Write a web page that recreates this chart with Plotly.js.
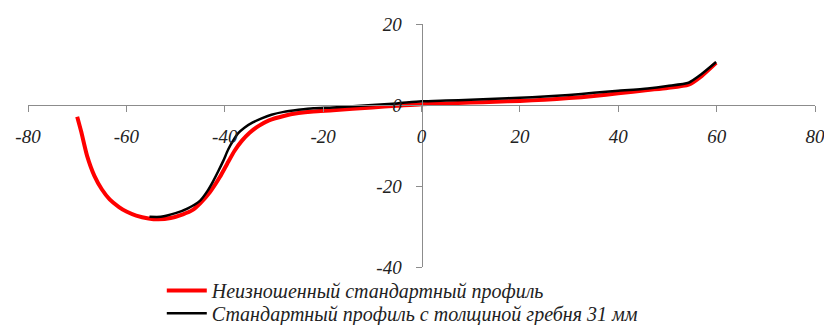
<!DOCTYPE html>
<html>
<head>
<meta charset="utf-8">
<script src="https://cdn.plot.ly/plotly-3.0.1.min.js"></script>
<style>
  body { margin: 0; background: #fff; }
  #plot { width: 824px; height: 325px; }
</style>
</head>
<body>
<div id="plot"></div>
<script>
var xTicks = [-80, -60, -40, -20, 0, 20, 40, 60, 80];
var yTicks = [-40, -20, 0, 20];

// Неизношенный стандартный профиль
var newX = [-70, -69.2, -68, -66.5, -65, -63.4, -61.5, -60, -58, -55.5, -53.5, -51, -48.5, -46.5,
            -45, -43, -41, -39.5, -38, -36.5, -35, -33, -31, -28, -25, -22, -18, -10, -5, 0,
            5, 10, 15, 20, 25, 30, 35, 40, 46, 50, 54.3, 57, 59.9];
var newY = [-2.9, -6.5, -12.5, -17.5, -20.8, -23.3, -25.2, -26.3, -27.3, -28.0, -28.2, -27.9, -27.0, -25.9,
            -24.3, -21.5, -17.8, -14.5, -11.3, -8.8, -6.9, -5.1, -3.8, -2.7, -2.0, -1.6, -1.3, -0.6, -0.2, 0.2,
            0.4, 0.6, 0.8, 1.0, 1.3, 1.7, 2.2, 2.9, 3.7, 4.2, 5.0, 7.2, 10.4];

// Стандартный профиль с толщиной гребня 31 мм
var wornX = [-55.3, -53, -50, -47.5, -45, -43.5, -42.4, -41.3, -40.3, -39.3, -38.3, -37.3, -36, -34.3,
             -32.5, -30.5, -28, -25, -22, -18, -10, -5, 0, 5, 10, 15, 20, 25, 30, 35, 40, 46, 50,
             54.3, 57, 59.9];
var wornY = [-27.6, -27.6, -26.7, -25.5, -23.6, -21.2, -18.9, -16.3, -13.8, -11.0, -8.8, -7.0, -5.6, -4.3,
             -3.3, -2.4, -1.7, -1.2, -0.8, -0.6, 0.0, 0.4, 0.9, 1.1, 1.3, 1.55, 1.8, 2.1, 2.5, 3.0, 3.5, 4.1, 4.7,
             5.5, 7.7, 10.6];

var labels = ['Неизношенный стандартный профиль', 'Стандартный профиль с толщиной гребня 31 мм'];

var xRange = [-80, 80];
var yRange = [-40, 20];

var serif = '"Liberation Serif", "Times New Roman", serif';

var trace1 = {
  x: newX, y: newY,
  mode: 'lines', type: 'scatter',
  name: labels[0],
  legend: 'legend',
  line: { color: '#ff0000', width: 4, shape: 'spline', smoothing: 0.6 }
};

var trace2 = {
  x: wornX, y: wornY,
  mode: 'lines', type: 'scatter',
  name: labels[1],
  legend: 'legend2',
  line: { color: '#000000', width: 2.5, shape: 'spline', smoothing: 0.6 }
};

var axisStyle = {
  showgrid: false,
  zeroline: false,
  showline: true,
  linecolor: '#8c8c8c',
  linewidth: 1,
  ticks: 'outside',
  ticklen: 6,
  tickcolor: '#8c8c8c',
  tickfont: { family: serif, size: 19, style: 'italic', color: '#222' },
  ticklabeloverflow: 'allow',
  anchor: 'free',
  fixedrange: true
};

var legendStyle = {
  x: 0.17, xanchor: 'left',
  yanchor: 'middle',
  orientation: 'v',
  bgcolor: 'rgba(0,0,0,0)',
  itemwidth: 40,
  font: { family: serif, size: 20, style: 'italic', color: '#222' }
};

var layout = {
  width: 824, height: 325,
  margin: { l: 28, r: 9, t: 24, b: 58, autoexpand: false },
  paper_bgcolor: '#fff', plot_bgcolor: '#fff',
  showlegend: true,
  xaxis: Object.assign({}, axisStyle, {
    range: xRange,
    tickvals: xTicks,
    ticktext: xTicks.map(String),
    position: (0 - yRange[0]) / (yRange[1] - yRange[0]),
    ticklabelstandoff: 8
  }),
  yaxis: Object.assign({}, axisStyle, {
    range: yRange,
    tickvals: yTicks,
    ticktext: yTicks.map(String),
    position: (0 - xRange[0]) / (xRange[1] - xRange[0]),
    ticklabelstandoff: 10
  }),
  legend: Object.assign({}, legendStyle, { y: -0.097 }),
  legend2: Object.assign({}, legendStyle, { y: -0.19 })
};

Plotly.newPlot('plot', [trace1, trace2], layout, { displayModeBar: false, staticPlot: true });
</script>
</body>
</html>
